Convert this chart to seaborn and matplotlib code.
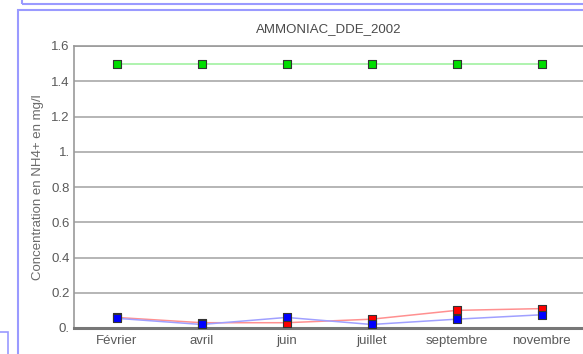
import matplotlib
matplotlib.use("Agg")
import matplotlib.pyplot as plt
from matplotlib.patches import Rectangle
import seaborn as sns
import pandas as pd

# -- donnees
mois = ["Février", "avril", "juin", "juillet", "septembre", "novembre"]
serie_rouge = [0.06, 0.03, 0.03, 0.05, 0.10, 0.11]
serie_bleue = [0.055, 0.02, 0.06, 0.02, 0.05, 0.075]
serie_verte = [1.5, 1.5, 1.5, 1.5, 1.5, 1.5]
y_ticks = [0, 0.2, 0.4, 0.6, 0.8, 1.0, 1.2, 1.4, 1.6]
y_labels = ["0.", "0.2", "0.4", "0.6", "0.8", "1.", "1.2", "1.4", "1.6"]

sns.set_style("white")
plt.rcParams['font.family'] = ['Liberation Sans', 'DejaVu Sans']

fig = plt.figure(figsize=(5.83, 3.54), dpi=100)
ax = fig.add_axes([74 / 583, 1 - 328 / 354, 510 / 583, 282 / 354])

series = [
    (serie_rouge, "#ff9090", "#ff0000"),
    (serie_bleue, "#a0a0ff", "#0000ff"),
    (serie_verte, "#98f098", "#00dd00"),
]
for valeurs, c_ligne, c_point in series:
    df = pd.DataFrame({"mois": mois, "val": valeurs})
    sns.lineplot(data=df, x="mois", y="val", sort=False, color=c_ligne,
                 linewidth=1.1, ax=ax, zorder=3)
    sns.scatterplot(data=df, x="mois", y="val", marker="s", s=36,
                    color=c_point, edgecolor="#333333", linewidth=0.8,
                    ax=ax, zorder=4)

ax.set_xlim(-0.5, 5.5)
ax.set_ylim(0, 1.6)
ax.set_yticks(y_ticks)
ax.set_yticklabels(y_labels)
ax.yaxis.grid(True, color="#b0b0b0", linewidth=1.3)
ax.set_axisbelow(True)
ax.tick_params(axis="both", labelsize=9.5, colors="#5a5a5a", length=0)
ax.tick_params(axis="x", pad=5)
ax.tick_params(axis="y", pad=3)
ax.set_xlabel("")
ax.set_ylabel("Concentration en NH4+ en mg/l", fontsize=9.5, color="#6a6a6a",
              labelpad=5)
ax.set_title("AMMONIAC_DDE_2002", fontsize=9.5, color="#4a4a4a", pad=10)

for s in ["top", "left"]:
    ax.spines[s].set_color("#999999")
    ax.spines[s].set_linewidth(1.2)
ax.spines["bottom"].set_color("#777777")
ax.spines["bottom"].set_linewidth(2.2)
ax.spines["right"].set_visible(False)

# -- cadres bleus de la page
bleu = "#9a9aff"
fig.patches.append(Rectangle((22 / 583, 1 - 4 / 354), 0.99, 0.05,
                             transform=fig.transFigure, fill=False,
                             edgecolor=bleu, linewidth=1.5))
fig.patches.append(Rectangle((18 / 583, -0.05), 0.99, 1 - 10 / 354 + 0.05,
                             transform=fig.transFigure, fill=False,
                             edgecolor=bleu, linewidth=1.5))
fig.patches.append(Rectangle((-0.05, -0.05), 0.05 + 8 / 583,
                             0.05 + 22 / 354, transform=fig.transFigure,
                             fill=False, edgecolor=bleu, linewidth=1.2))

fig.savefig("out.png", dpi=100)
